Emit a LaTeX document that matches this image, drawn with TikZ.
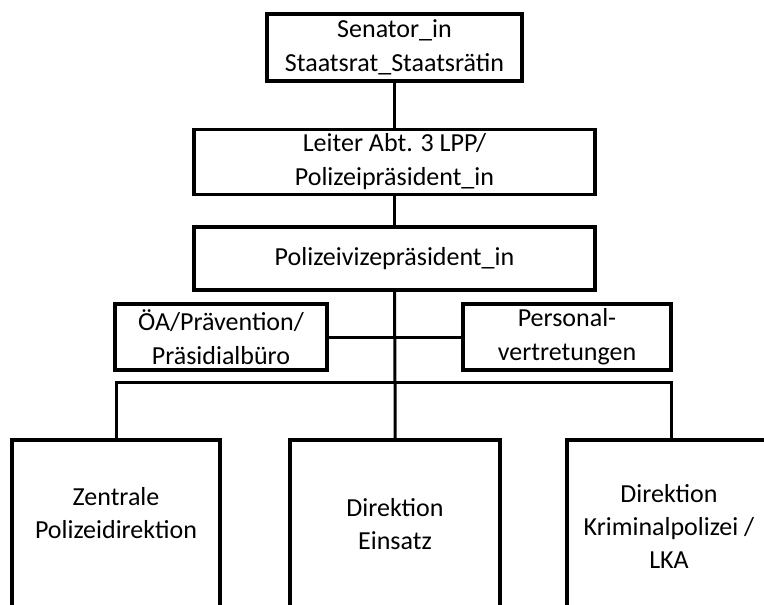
\documentclass[tikz,border=0pt]{standalone}
\usepackage{fontspec}
\setmainfont{Carlito}
\begin{document}
\begin{tikzpicture}[x=1pt,y=1pt,
  orgbox/.style={draw=black, line width=3.6pt, fill=white, inner sep=0pt,
    align=center, font=\fontsize{26}{34}\selectfont},
  orgtext/.style={inner sep=0pt, align=center, font=\fontsize{26}{33}\selectfont},
  link/.style={draw=black, line width=3pt}]
  \clip (0,0) rectangle (764,-605);
  \fill[white] (0,0) rectangle (764,-605);

  % leadership chain
  \node[orgbox, minimum width=255pt, minimum height=67pt] (senator) at (394.5,-47.5)
    {Senator\_in\\Staatsrat\_Staatsrätin};
  \node[orgbox, minimum width=401pt, minimum height=65pt] (leiter) at (394.5,-162)
    {Leiter Abt. 3 LPP/\\Polizeipräsident\_in};
  \node[orgbox, minimum width=401pt, minimum height=63pt] (vize) at (394.5,-258.5)
    {Polizeivizepräsident\_in};

  % staff units
  \node[orgbox, minimum width=212pt, minimum height=66pt] (oea) at (221,-337)
    {ÖA/Prävention/\\Präsidialbüro};
  \node[orgbox, minimum width=208pt, minimum height=66pt] (pers) at (567,-337)
    {Personal-\\vertretungen};

  % directorates (frames run past the page edge)
  \node[orgbox, minimum width=208pt, minimum height=220pt, anchor=north] (zpd) at (116,-438) {};
  \node[orgbox, minimum width=210pt, minimum height=220pt, anchor=north] (einsatz) at (395,-438) {};
  \node[orgbox, minimum width=208pt, minimum height=220pt, anchor=north] (kripo) at (671,-438) {};
  \node[orgtext] (zpdtext) at (116,-513) {Zentrale\\Polizeidirektion};
  \node[orgtext] (einsatztext) at (395,-524.5) {Direktion\\Einsatz};
  \node[orgtext] (kripotext) at (669,-526) {Direktion\\Kriminalpolizei /\\LKA};

  % connectors
  \coordinate (bus) at (395,-382);
  \path[link] (senator.south) -- (leiter.north);
  \path[link] (leiter.south) -- (vize.north);
  \path[link] (vize.south) -- (bus) -- (einsatz.north);
  \path[link] (oea.east) -- (pers.west);
  \path[link] (zpd.north) -- (zpd.north |- bus) -- (kripo.north |- bus) -- (kripo.north);
\end{tikzpicture}
\end{document}
